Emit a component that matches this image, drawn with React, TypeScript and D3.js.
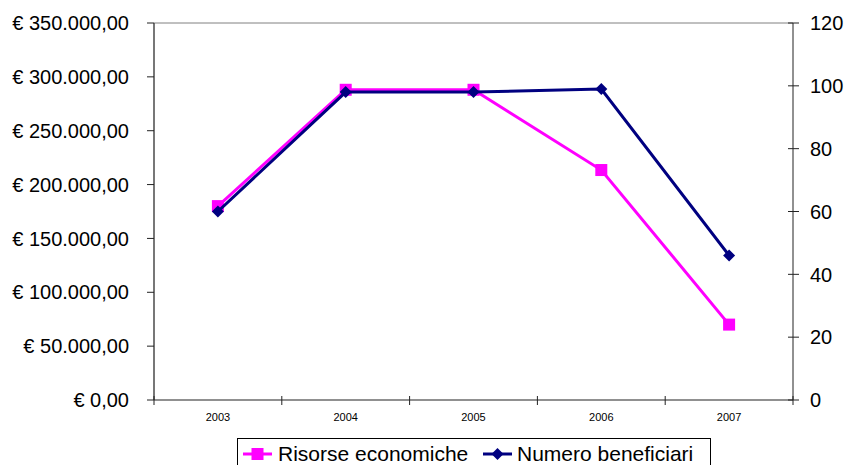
import React from "react";
import * as d3 from "d3";

const years = ["2003", "2004", "2005", "2006", "2007"];
const risorse = [180000, 288000, 288000, 213500, 70000];
const beneficiari = [60, 98, 98, 99, 46];
const leftTicks = [0, 50000, 100000, 150000, 200000, 250000, 300000, 350000];
const rightTicks = [0, 20, 40, 60, 80, 100, 120];

const W = 846, H = 465;
const L = 154, R = 793, T = 23, B = 400;

const fmtEuro = (v: number) => {
  const s = d3.format(",.2f")(v);
  return "€ " + s.replace(/,/g, "#").replace(/\./g, ",").replace(/#/g, ".");
};

export default function App() {
  const x = d3.scaleBand().domain(years).range([L, R]).padding(0);
  const yL = d3.scaleLinear().domain([0, 350000]).range([B, T]);
  const yR = d3.scaleLinear().domain([0, 120]).range([B, T]);
  const cx = (d: string) => (x(d) as number) + x.bandwidth() / 2;
  const lineL = d3.line<number>().x((_, i) => cx(years[i])).y((d) => yL(d));
  const lineR = d3.line<number>().x((_, i) => cx(years[i])).y((d) => yR(d));
  const font = "Arial, 'Liberation Sans', sans-serif";
  const pink = "#FF00FF";
  const navy = "#000080";
  const boundaries = [...years.map((y) => x(y) as number), R];

  return (
    <svg width={W} height={H} style={{ position: "absolute", left: 0, top: 0 }} fontFamily={font}>
      <rect x={0} y={0} width={W} height={H} fill="#fff" />
      {/* top border */}
      <line x1={L} x2={R} y1={T} y2={T} stroke="#808080" strokeWidth={1} />
      {/* left axis */}
      <line x1={L} x2={L} y1={T} y2={B} stroke="#555" strokeWidth={1.6} />
      {leftTicks.map((t) => (
        <g key={"l" + t}>
          <line x1={L - 7} x2={L} y1={yL(t)} y2={yL(t)} stroke="#222" />
          <text x={129} y={yL(t)} dy="0.36em" textAnchor="end" fontSize={20} fill="#000">
            {fmtEuro(t)}
          </text>
        </g>
      ))}
      {/* right axis */}
      <line x1={R} x2={R} y1={T} y2={B} stroke="#222" strokeWidth={1} />
      {rightTicks.map((t) => (
        <g key={"r" + t}>
          <line x1={R - 5} x2={R + 6} y1={yR(t)} y2={yR(t)} stroke="#222" />
          <text x={810} y={yR(t)} dy="0.36em" textAnchor="start" fontSize={20} fill="#000">
            {t}
          </text>
        </g>
      ))}
      {/* x axis */}
      <line x1={L} x2={R} y1={B} y2={B} stroke="#222" strokeWidth={1.2} />
      {boundaries.map((b, i) => (
        <line key={"xb" + i} x1={b} x2={b} y1={B - 4} y2={B + 5} stroke="#222" />
      ))}
      {years.map((y) => (
        <text key={"xt" + y} x={cx(y)} y={417} dy="0.35em" textAnchor="middle" fontSize={11} fill="#000">
          {y}
        </text>
      ))}
      {/* series */}
      <path d={lineL(risorse) || ""} fill="none" stroke={pink} strokeWidth={3} />
      {risorse.map((v, i) => (
        <rect key={"rs" + i} x={cx(years[i]) - 6} y={yL(v) - 6} width={12} height={12} fill={pink} />
      ))}
      <path d={lineR(beneficiari) || ""} fill="none" stroke={navy} strokeWidth={3} />
      {beneficiari.map((v, i) => {
        const px = cx(years[i]), py = yR(v);
        return (
          <path key={"bn" + i} d={`M${px},${py - 6}L${px + 6},${py}L${px},${py + 6}L${px - 6},${py}Z`} fill={navy} />
        );
      })}
      {/* legend */}
      <rect x={237.5} y={438.5} width={473} height={40} fill="#fff" stroke="#000" strokeWidth={1} />
      <line x1={243} x2={272} y1={454} y2={454} stroke={pink} strokeWidth={3} />
      <rect x={251.5} y={448} width={12} height={12} fill={pink} />
      <text x={278} y={461} fontSize={21} fill="#000">Risorse economiche</text>
      <line x1={483} x2={512} y1={454} y2={454} stroke={navy} strokeWidth={3} />
      <path d={`M497.5,448L503.5,454L497.5,460L491.5,454Z`} fill={navy} />
      <text x={517} y={461} fontSize={21} fill="#000">Numero beneficiari</text>
    </svg>
  );
}
